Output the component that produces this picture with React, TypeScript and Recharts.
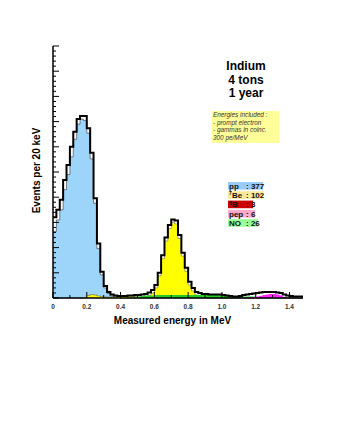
import React from 'react';
import { ComposedChart, Area, Line, XAxis, YAxis } from 'recharts';

// 20 keV bins, 0 .. 1.48 MeV
const BIN_MEV = 0.02;
const N_BINS = 74;

// total spectrum (black outline), events per 20 keV
const total = [
  16, 17.5, 19.5, 23.4, 26.4, 30, 33, 35.5, 36.1, 36.1,
  33.7, 28.8, 19.8, 10.8, 5.2, 2.4, 1.2, 0.7, 0.5, 0.4,
  0.4, 0.4, 0.5, 0.5, 0.6, 0.6, 0.7, 0.8, 1.1, 1.6,
  2.6, 5.0, 8.5, 12.0, 14.5, 15.6, 15.4, 12.5, 9.0, 6.0,
  3.2, 2.0, 1.2, 1.0, 0.8, 0.8, 0.7, 0.7, 0.7, 0.7,
  0.6, 0.5, 0.4, 0.3, 0.3, 0.4, 0.6, 0.7, 0.8, 0.9,
  1.0, 1.1, 1.2, 1.2, 1.2, 1.2, 1.1, 1.0, 0.7, 0.5,
  0.4, 0.3, 0.3, 0.3,
];

const pp = [
  13.2, 15.5, 17.5, 21.5, 24.5, 28, 31.5, 34.5, 35.5, 35.2,
  32.7, 27.6, 18.8, 9.8, 4.6, 2.0, 0.9, 0.4, 0.2, 0.1,
  0, 0, 0, 0, 0, 0, 0, 0, 0, 0,
  0, 0, 0, 0, 0, 0, 0, 0, 0, 0,
  0, 0, 0, 0, 0, 0, 0, 0, 0, 0,
  0, 0, 0, 0, 0, 0, 0, 0, 0, 0,
  0, 0, 0, 0, 0, 0, 0, 0, 0, 0,
  0, 0, 0, 0,
];

const be7 = [
  0, 0, 0, 0, 0, 0, 0, 0, 0, 0,
  0.5, 0.7, 0.6, 0.4, 0.3, 0.2, 0.2, 0.2, 0.2, 0.2,
  0.3, 0.3, 0.3, 0.3, 0.3, 0.2, 0.2, 0.2, 0.5, 1.0,
  2.0, 4.4, 7.8, 11.3, 13.8, 15.0, 14.7, 11.8, 8.3, 5.3,
  2.6, 1.4, 0.6, 0.3, 0.2, 0, 0, 0, 0, 0,
  0, 0, 0, 0, 0, 0, 0, 0, 0, 0,
  0, 0, 0, 0, 0, 0, 0, 0, 0, 0,
  0, 0, 0, 0,
];

const b8 = [
  0, 0, 0, 0, 0, 0, 0, 0, 0, 0,
  0, 0, 0, 0, 0, 0, 0, 0, 0, 0,
  0, 0, 0, 0, 0, 0, 0, 0, 0, 0,
  0, 0, 0, 0, 0, 0, 0, 0, 0, 0,
  0.05, 0, 0, 0, 0, 0, 0, 0, 0.05, 0,
  0, 0, 0, 0, 0, 0.05, 0, 0, 0, 0,
  0, 0, 0, 0.05, 0, 0, 0, 0, 0, 0,
  0.05, 0, 0, 0,
];

const pep = [
  0, 0, 0, 0, 0, 0, 0, 0, 0, 0,
  0, 0, 0, 0, 0, 0, 0, 0, 0, 0,
  0, 0, 0, 0, 0, 0, 0, 0, 0, 0,
  0, 0, 0, 0, 0, 0, 0, 0, 0, 0,
  0, 0, 0, 0, 0, 0, 0, 0, 0, 0,
  0, 0, 0, 0, 0, 0, 0, 0.1, 0.2, 0.2,
  0.3, 0.4, 0.6, 0.7, 0.8, 0.8, 0.7, 0.5, 0.2, 0.1,
  0, 0, 0, 0,
];

const no = [
  0, 0, 0, 0, 0, 0, 0, 0, 0, 0,
  0, 0, 0, 0, 0, 0, 0, 0, 0, 0,
  0, 0, 0.1, 0.1, 0.2, 0.3, 0.4, 0.5, 0.5, 0.5,
  0.6, 0.6, 0.6, 0.6, 0.6, 0.6, 0.6, 0.6, 0.6, 0.6,
  0.6, 0.6, 0.6, 0.6, 0.6, 0.6, 0.6, 0.6, 0.6, 0.6,
  0.5, 0.4, 0.3, 0.2, 0.2, 0.2, 0.3, 0.3, 0.3, 0.3,
  0.2, 0.1, 0, 0, 0, 0, 0, 0, 0, 0,
  0, 0, 0, 0,
];

const xTicks = [0, 0.1, 0.2, 0.3, 0.4, 0.5, 0.6, 0.7, 0.8, 0.9, 1.0, 1.1, 1.2, 1.3, 1.4];
const xTickLabels: Record<string, string> = {
  '0': '0', '0.2': '0.2', '0.4': '0.4', '0.6': '0.6',
  '0.8': '0.8', '1': '1.0', '1.2': '1.2', '1.4': '1.4',
};
const yTicks = Array.from({ length: 51 }, (_, i) => i);

const legendSup = ['', '7', '8', '', ''];
const legendNames = ['pp', 'Be', 'B', 'pep', 'NO'];
const legendCounts = [377, 102, 3, 6, 26];
const legendBg = ['#99ccff', '#ffe999', '#cc0000', '#ffaacc', '#99ff99'];
const legendWidths = [35, 35, 25, 27, 30];

const noteLines = ['Energies included :', '- prompt electron', '- gammas in coinc.', '300 pe/MeV'];
const titleLines = ['Indium', '4 tons', '1 year'];

const data = [];
for (let i = 0; i <= N_BINS; i++) {
  const k = Math.min(i, N_BINS - 1);
  data.push({
    e: Number((i * BIN_MEV).toFixed(2)),
    total: total[k],
    pp: pp[k],
    be7: be7[k],
    b8: b8[k],
    pep: pep[k],
    no: no[k],
  });
}

const FONT = '"Liberation Sans", Arial, Helvetica, sans-serif';

function YTick(props: any) {
  const { x, y, payload } = props;
  const len = payload.value % 5 === 0 ? 6 : 3;
  return <line x1={x} x2={x + len} y1={y} y2={y} stroke="#000" strokeWidth={1} />;
}

function XTick(props: any) {
  const { x, y, payload } = props;
  const key = String(Number(payload.value.toFixed(1)));
  const label = xTickLabels[key];
  return (
    <g>
      <line x1={x} x2={x} y1={y} y2={y - (label ? 6 : 3)} stroke="#000" strokeWidth={1} />
      {label && (
        <text x={x} y={y + 11} textAnchor="middle" fontSize={6.5} fontWeight="bold" fill="#333" fontFamily={FONT}>
          {label}
        </text>
      )}
    </g>
  );
}

function Overlay() {
  return (
    <svg width={345} height={446} style={{ position: 'absolute', left: 0, top: 0, pointerEvents: 'none' }}>
      {titleLines.map((t, i) => (
        <text key={t} x={246} y={70 + i * 13.5} textAnchor="middle" fontSize={12} fontWeight="bold" fill="#000" fontFamily={FONT}>
          {t}
        </text>
      ))}
      <rect x={212} y={111} width={67} height={32} fill="#ffff99" />
      {noteLines.map((t, i) => (
        <text key={t} x={213} y={117 + i * 7.5} fontSize={6.4} fontStyle="italic" fill="#333" fontFamily={FONT}>
          {t}
        </text>
      ))}
      {legendNames.map((n, i) => {
        const top = 182 + i * 9.3;
        return (
          <g key={n}>
            <rect x={228} y={top} width={legendWidths[i]} height={7.6} fill={legendBg[i]} />
            {legendSup[i] && (
              <text x={229} y={top + 4} fontSize={5} fontWeight="bold" fill="#111" fontFamily={FONT}>
                {legendSup[i]}
              </text>
            )}
            <text x={legendSup[i] ? 232 : 229} y={top + 6.6} fontSize={8} fontWeight="bold" fill="#111" fontFamily={FONT}>
              {legendNames[i]}
            </text>
            <text x={246} y={top + 6.6} fontSize={8} fontWeight="bold" fill="#111" fontFamily={FONT}>
              {': ' + legendCounts[i]}
            </text>
          </g>
        );
      })}
      <text x={172.5} y={323.5} textAnchor="middle" fontSize={10} fontWeight="bold" fill="#000" fontFamily={FONT}>
        Measured energy in MeV
      </text>
      <text x={39.5} y={170.5} transform="rotate(-90 39.5 170.5)" textAnchor="middle" fontSize={10} fontWeight="bold" fill="#000" fontFamily={FONT}>
        Events per 20 keV
      </text>
    </svg>
  );
}

export default function App() {
  return (
    <div style={{ position: 'relative', width: 345, height: 446, background: '#fff' }}>
      <style>{'body{margin:0}'}</style>
      <ComposedChart width={345} height={446} data={data} margin={{ top: 46, right: 42, left: 23, bottom: 118 }}>
        <Area type="stepAfter" dataKey="pp" fill="#9dd5fa" fillOpacity={1} stroke="#333" strokeWidth={0.6} isAnimationActive={false} />
        <Area type="stepAfter" dataKey="be7" fill="#ffff00" fillOpacity={1} stroke="#555" strokeWidth={0.5} isAnimationActive={false} />
        <Area type="stepAfter" dataKey="no" fill="#22cc22" fillOpacity={1} stroke="none" isAnimationActive={false} />
        <Area type="stepAfter" dataKey="b8" fill="#cc0000" fillOpacity={1} stroke="none" isAnimationActive={false} />
        <Area type="stepAfter" dataKey="pep" fill="#ff22ff" fillOpacity={1} stroke="none" isAnimationActive={false} />
        <Line type="stepAfter" dataKey="total" stroke="#000" strokeWidth={2} dot={false} isAnimationActive={false} />
        <XAxis
          type="number"
          dataKey="e"
          domain={[0, 1.48]}
          ticks={xTicks}
          interval={0}
          tickSize={0}
          tickMargin={0}
          tickLine={false}
          tick={<XTick />}
          height={30}
          axisLine={{ stroke: '#000', strokeWidth: 1.5 }}
        />
        <YAxis
          type="number"
          domain={[0, 50]}
          ticks={yTicks}
          interval={0}
          tickSize={0}
          tickMargin={0}
          tickLine={false}
          tick={<YTick />}
          width={30}
          axisLine={{ stroke: '#000', strokeWidth: 1.5 }}
        />
      </ComposedChart>
      <Overlay />
    </div>
  );
}
